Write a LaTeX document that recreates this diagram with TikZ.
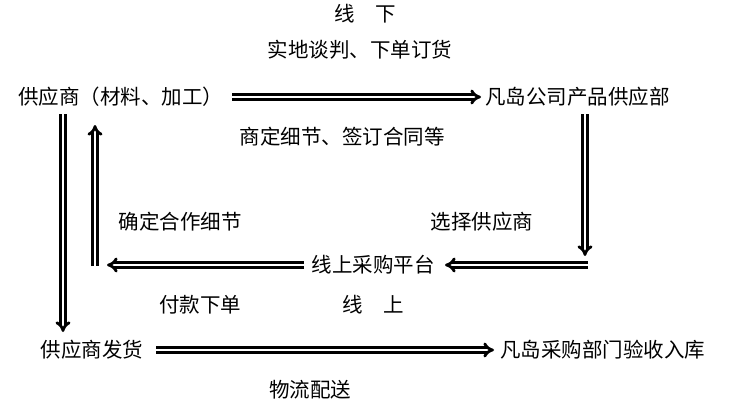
\documentclass[tikz,border=0pt]{standalone}
\usepackage{fontspec}
\setmainfont{Noto Sans CJK SC}
\usetikzlibrary{arrows.meta}
\begin{document}
\begin{tikzpicture}[x=1pt,y=-1pt,
  lbl/.style={font=\fontsize{20.5}{23}\selectfont,inner sep=0pt},
  dbl/.style={draw=black,line width=2.8pt,double=white,double distance=1.8pt,-{Implies}}]
\useasboundingbox (0,0) rectangle (747,412);
\node[lbl] (t1) at (365,14) {线\quad 下};
\node[lbl] (t2) at (360,50) {实地谈判、下单订货};
\node[lbl,anchor=west] (s) at (18,97) {供应商（材料、加工）};
\node[lbl,anchor=west] (f) at (485,97) {凡岛公司产品供应部};
\node[lbl] (t3) at (342,137) {商定细节、签订合同等};
\node[lbl] (t4) at (180,222) {确定合作细节};
\node[lbl] (t5) at (482,222) {选择供应商};
\node[lbl] (p) at (373,265) {线上采购平台};
\node[lbl] (t6) at (200,305) {付款下单};
\node[lbl] (t7) at (373,305) {线\quad 上};
\node[lbl] (sd) at (92,350) {供应商发货};
\node[lbl,anchor=west] (y) at (500,350) {凡岛采购部门验收入库};
\node[lbl] (t8) at (310,390) {物流配送};
\coordinate (a1) at (232,97); \coordinate (a2) at (481,97);
\coordinate (b1) at (63,114); \coordinate (b2) at (63,332);
\coordinate (c1) at (95,266); \coordinate (c2) at (95,125);
\coordinate (d1) at (585,114); \coordinate (d2) at (585,256);
\coordinate (e1) at (588,265); \coordinate (e2) at (445,265);
\coordinate (g1) at (304,265); \coordinate (g2) at (107,265);
\coordinate (h1) at (156,350); \coordinate (h2) at (494,350);
\draw[dbl] (a1) -- (a2);
\draw[dbl] (b1) -- (b2);
\draw[dbl] (c1) -- (c2);
\draw[dbl] (d1) -- (d2);
\draw[dbl] (e1) -- (e2);
\draw[dbl] (g1) -- (g2);
\draw[dbl] (h1) -- (h2);
\end{tikzpicture}
\end{document}
